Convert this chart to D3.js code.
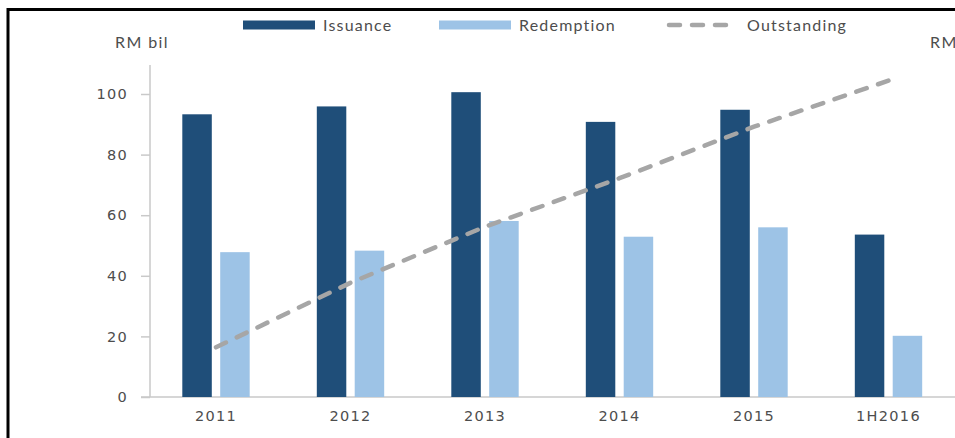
<!DOCTYPE html>
<html>
<head>
<meta charset="utf-8">
<script src="https://cdn.jsdelivr.net/npm/d3@7"></script>
<style>
  html, body { margin: 0; padding: 0; background: #fff; }
  svg { display: block; }
</style>
</head>
<body>
<svg id="chart" width="955" height="438"></svg>
<script>
const categories = ["2011", "2012", "2013", "2014", "2015", "1H2016"];
const issuance = [93.3, 95.9, 100.6, 90.8, 94.8, 53.6];
const redemption = [47.8, 48.3, 58.1, 52.9, 56.0, 20.2];
const outstanding = [16.4, 37.7, 56.2, 72.2, 89.2, 104.4];
const yTicks = [0, 20, 40, 60, 80, 100];
const seriesNames = ["Issuance", "Redemption", "Outstanding"];

const colors = { Issuance: "#1f4e79", Redemption: "#9dc3e6", Outstanding: "#a6a6a6" };
const textColor = "#4d4d4d";
const axisColor = "#c9c9c9";

const svg = d3.select("#chart");

// frame (cropped border)
svg.append("line").attr("x1", 8).attr("x2", 955).attr("y1", 9.5).attr("y2", 9.5)
  .attr("stroke", "#000").attr("stroke-width", 3);
svg.append("line").attr("x1", 8).attr("x2", 8).attr("y1", 8).attr("y2", 438)
  .attr("stroke", "#000").attr("stroke-width", 3);

const x0 = d3.scaleBand().domain(categories).range([148.75, 955.75])
  .paddingInner(0.499).paddingOuter(0.2495);
const x1 = d3.scaleBand().domain(["Issuance", "Redemption"]).range([0, x0.bandwidth()])
  .paddingInner(0.222).paddingOuter(0);
const y = d3.scaleLinear().domain([0, 100]).range([397, 94]);

// y axis
const yAxis = svg.append("g").attr("transform", "translate(150,0)")
  .call(d3.axisLeft(y).tickValues(yTicks).tickSize(9).tickPadding(13));
yAxis.select(".domain").remove();
yAxis.append("line").attr("x1", 0).attr("x2", 0).attr("y1", 65).attr("y2", 397)
  .attr("stroke", axisColor).attr("stroke-width", 1.5);
yAxis.selectAll(".tick line").attr("stroke", axisColor).attr("stroke-width", 1.5);
yAxis.selectAll(".tick text").attr("fill", textColor)
  .style("font-family", "'DejaVu Sans', Verdana, sans-serif").style("font-size", "14.5px")
  .style("letter-spacing", "1.3px");

// x axis
const xAxis = svg.append("g").attr("transform", "translate(0,397)")
  .call(d3.axisBottom(x0).tickSize(0).tickPadding(14));
xAxis.select(".domain").remove();
xAxis.append("line").attr("x1", 141).attr("x2", 955).attr("y1", 0).attr("y2", 0)
  .attr("stroke", axisColor).attr("stroke-width", 1.5);
xAxis.selectAll(".tick text").attr("fill", textColor)
  .style("font-family", "'DejaVu Sans', Verdana, sans-serif").style("font-size", "14.5px")
  .style("letter-spacing", "1.3px");

// bars
const barData = [];
categories.forEach((c, i) => {
  barData.push({ cat: c, key: "Issuance", value: issuance[i] });
  barData.push({ cat: c, key: "Redemption", value: redemption[i] });
});
svg.append("g").selectAll("rect").data(barData).join("rect")
  .attr("x", d => x0(d.cat) + x1(d.key))
  .attr("width", x1.bandwidth())
  .attr("y", d => y(d.value))
  .attr("height", d => y(0) - y(d.value))
  .attr("fill", d => colors[d.key]);

// outstanding line
const line = d3.line()
  .x((d, i) => x0(categories[i]) + x0.bandwidth() / 2)
  .y(d => y(d));
svg.append("path").datum(outstanding)
  .attr("d", line)
  .attr("fill", "none")
  .attr("stroke", colors.Outstanding)
  .attr("stroke-width", 4.5)
  .attr("stroke-linecap", "round")
  .attr("stroke-dasharray", "11,12");

// axis titles
const labelFont = "Lato, 'Open Sans', sans-serif";
svg.append("text").attr("x", 115).attr("y", 48).text("RM bil")
  .attr("fill", textColor).style("font-family", labelFont).style("font-size", "16px")
  .style("letter-spacing", "1.4px");
svg.append("text").attr("x", 930).attr("y", 48).text("RM bil")
  .attr("fill", textColor).style("font-family", labelFont).style("font-size", "16px")
  .style("letter-spacing", "1.4px");

// legend
const legendItems = [
  { name: seriesNames[0], x: 243 },
  { name: seriesNames[1], x: 439 },
  { name: seriesNames[2], x: 667 }
];
const lg = svg.append("g");
legendItems.forEach(item => {
  if (item.name === "Outstanding") {
    lg.append("line").attr("x1", item.x + 2).attr("x2", item.x + 70)
      .attr("y1", 25).attr("y2", 25)
      .attr("stroke", colors.Outstanding).attr("stroke-width", 4.5)
      .attr("stroke-linecap", "round").attr("stroke-dasharray", "11,12");
  } else {
    lg.append("rect").attr("x", item.x).attr("y", 20.5).attr("width", 72).attr("height", 9)
      .attr("fill", colors[item.name]);
  }
  lg.append("text").attr("x", item.x + 80).attr("y", 30.5).text(item.name)
    .attr("fill", textColor).style("font-family", labelFont).style("font-size", "16px")
    .style("letter-spacing", "1.2px");
});
</script>
</body>
</html>
